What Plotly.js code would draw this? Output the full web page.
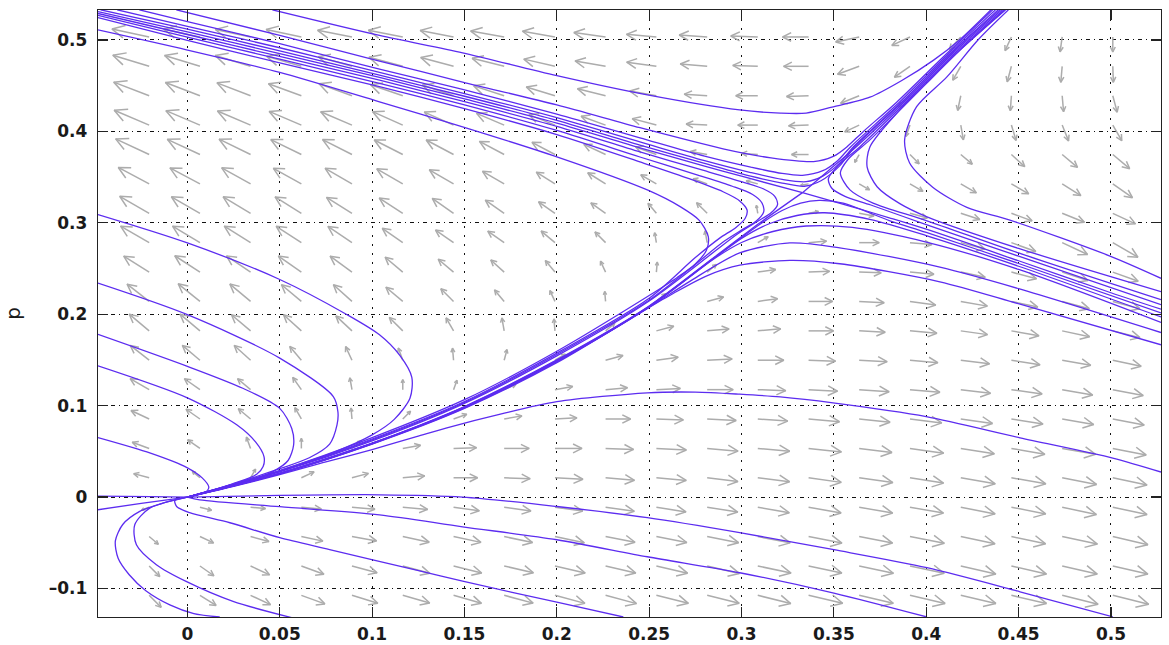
<!DOCTYPE html>
<html><head><meta charset="utf-8">
<script src="https://cdn.plot.ly/plotly-3.0.1.min.js"></script>
<style>html,body{margin:0;padding:0;background:#fff;}#chart{width:1169px;height:645px;}</style>
</head><body><div id="chart"></div>
<script>
// ---- axis ticks ----
const xTickVals = [0, 0.05, 0.1, 0.15, 0.2, 0.25, 0.3, 0.35, 0.4, 0.45, 0.5];
const xTickText = ['0', '0.05', '0.1', '0.15', '0.2', '0.25', '0.3', '0.35', '0.4', '0.45', '0.5'];
const yTickVals = [-0.1, 0, 0.1, 0.2, 0.3, 0.4, 0.5];
const yTickText = ['\u20130.1', '0', '0.1', '0.2', '0.3', '0.4', '0.5'];

// ---- quiver grid (tail positions) ----
const qx = [-0.0207, 0.0068, 0.0342, 0.0617, 0.0891, 0.1166, 0.1441, 0.1715, 0.1990, 0.2264,
            0.2539, 0.2814, 0.3088, 0.3363, 0.3637, 0.3912, 0.4187, 0.4461, 0.4736, 0.5010];
const qp = [0.5033, 0.4712, 0.4390, 0.4069, 0.3747, 0.3426, 0.3104, 0.2783, 0.2461, 0.2140,
            0.1818, 0.1497, 0.1175, 0.0854, 0.0532, 0.0211, -0.0111, -0.0432, -0.0754, -0.1075];
// arrow direction (degrees, on screen) per row (top to bottom) and column (left to right)
const arrowAngle = [
 [168,168,168,168,169,169,169,170,170,172,175,176,178,180,192,205,228,245,262,270],
 [163,163,163,164,164,165,165,166,167,170,172,175,178,180,200,215,240,255,265,272],
 [159,159,159,160,160,161,161,162,163,166,170,176,180,182,202,225,258,266,275,285],
 [157,157,157,157,157,156,156,157,158,160,165,177,180,182,205,250,280,287,292,300],
 [155,155,154,154,153,153,152,152,152,155,160,170,176,180,240,315,320,318,320,320],
 [152,152,151,151,150,150,150,150,148,148,150,160,165,190,330,330,330,330,328,325],
 [150,150,149,148,148,147,145,145,145,145,130,135,100,10,350,345,342,340,338,335],
 [150,149,148,147,146,145,145,145,140,135,100,100,30,5,0,355,345,340,335,330],
 [148,147,146,145,144,140,140,138,130,115,85,40,8,2,358,355,348,345,342,340],
 [142,141,140,140,138,140,135,130,115,95,40,15,8,0,357,352,350,348,345,345],
 [140,140,140,138,137,135,120,100,95,40,15,5,5,0,357,355,352,350,348,346],
 [142,140,138,130,115,110,95,75,30,15,8,3,0,358,357,355,353,351,350,348],
 [150,145,140,125,100,90,70,25,10,5,3,0,358,357,356,355,353,352,350,349],
 [155,145,140,120,95,45,20,10,3,0,358,357,356,355,354,353,352,351,350,349],
 [160,145,110,90,40,10,2,0,0,358,357,355,355,354,353,352,351,350,350,349],
 [165,140,60,25,15,5,0,358,357,355,355,353,353,352,352,351,350,350,349,348],
 [200,345,355,355,355,355,352,352,352,352,351,351,350,350,350,350,349,349,348,348],
 [320,335,345,348,350,348,348,348,348,349,349,349,349,349,349,349,348,348,348,347],
 [315,325,335,340,345,345,346,347,347,347,347,347,348,348,348,348,347,347,347,347],
 [315,328,335,340,343,344,344,345,345,345,346,346,346,347,347,347,347,347,346,346]
];
// arrow magnitude (relative) per grid point
const arrowMag = [
 [38,37,36,36,35,35,34,34,33,32,30,28,27,26,24,20,17,15,15,15],
 [38,37,37,36,35,35,34,33,32,31,30,27,25,25,23,19,16,16,16,16],
 [38,37,36,35,35,34,33,32,30,29,27,23,22,22,20,16,15,15,16,17],
 [38,37,36,35,34,33,32,30,28,26,25,21,20,20,16,12,15,16,17,18],
 [37,36,35,34,33,32,31,28,26,24,22,17,16,17,9,13,15,18,20,22],
 [35,34,33,32,31,30,28,25,22,21,18,15,12,8,12,15,18,20,22,24],
 [34,33,32,31,30,28,26,23,20,18,13,15,8,10,15,18,20,22,24,25],
 [33,32,31,30,29,25,22,20,18,15,10,12,12,18,20,22,25,26,28,29],
 [30,30,29,28,27,23,20,18,15,12,10,12,18,21,22,24,25,26,27,27],
 [28,28,27,26,25,22,18,15,12,10,12,17,20,24,25,26,27,27,28,28],
 [26,26,25,24,22,19,15,13,12,12,18,22,23,25,26,27,27,28,28,28],
 [24,23,22,18,15,13,12,11,12,18,22,25,26,27,28,28,29,29,29,29],
 [22,19,17,15,12,10,10,13,18,22,24,26,28,29,30,30,30,31,31,31],
 [20,17,16,13,11,11,14,18,22,25,27,29,30,31,31,32,32,32,32,32],
 [18,15,12,10,12,18,23,25,27,28,30,31,32,33,33,34,34,34,34,34],
 [16,10,10,14,17,22,24,26,28,29,30,31,32,33,34,34,35,35,35,35],
 [8,12,15,20,23,25,26,27,28,29,30,31,32,33,34,34,35,35,35,35],
 [12,15,19,22,25,27,28,29,30,30,31,32,33,34,34,35,35,35,36,36],
 [15,17,21,24,26,28,29,30,31,31,32,33,34,34,35,35,36,36,36,36],
 [17,19,22,25,27,28,29,30,31,32,33,33,34,35,35,36,36,36,37,37]
];

// ---- trajectories (x, p) ----
const sX = [0, 0.025, 0.05, 0.075, 0.1, 0.125, 0.15, 0.2, 0.25, 0.285, 0.31, 0.333];
const sP = [0, 0.012, 0.026, 0.042, 0.059, 0.078, 0.099, 0.150, 0.209, 0.262, 0.300, 0.333];
const urX = [0.333, 0.347, 0.362, 0.389, 0.415, 0.441];
const urP = [0.333, 0.357, 0.383, 0.434, 0.4865, 0.533];
const ulX = [0.333, 0.30, 0.28, 0.245, 0.2, 0.149, 0.104, 0.05, 0.0, -0.0484];
const ulP = [0.333, 0.351, 0.362, 0.382, 0.409, 0.436, 0.459, 0.485, 0.509, 0.531];
const lrX = [0.333, 0.36, 0.38, 0.40, 0.45, 0.50, 0.5271];
const lrP = [0.333, 0.3175, 0.3055, 0.293, 0.2585, 0.2235, 0.2055];

const t1X = [0.046, 0.104, 0.149, 0.200, 0.249, 0.299, 0.321, 0.335, 0.349, 0.3695, 0.387, 0.404, 0.418, 0.435];
const t1P = [0.533, 0.505, 0.486, 0.461, 0.440, 0.4235, 0.420, 0.420, 0.4265, 0.4374, 0.456, 0.478, 0.500, 0.533];
const t2X = [-0.006, 0.05, 0.104, 0.149, 0.200, 0.245, 0.29, 0.316, 0.339, 0.350, 0.357, 0.366, 0.384, 0.41, 0.436];
const t2P = [0.533, 0.505, 0.477, 0.454, 0.429, 0.404, 0.381, 0.371, 0.367, 0.373, 0.383, 0.40, 0.432, 0.483, 0.533];
const t3X = [-0.026, 0.0, 0.05, 0.104, 0.149, 0.2, 0.245, 0.28, 0.305, 0.322, 0.333, 0.344, 0.352, 0.359, 0.386, 0.412, 0.4375];
const t3P = [0.533, 0.520, 0.496, 0.468, 0.446, 0.419, 0.393, 0.373, 0.361, 0.354, 0.352, 0.357, 0.368, 0.383, 0.433, 0.485, 0.533];
const t4X = [-0.038, 0.0, 0.05, 0.104, 0.149, 0.2, 0.245, 0.28, 0.305, 0.322, 0.335, 0.344, 0.353, 0.3605, 0.3875, 0.4135, 0.439];
const t4P = [0.533, 0.515, 0.4915, 0.4645, 0.442, 0.415, 0.3885, 0.368, 0.355, 0.3475, 0.345, 0.351, 0.365, 0.383, 0.4335, 0.486, 0.533];
const t5X = [-0.047, 0.0, 0.05, 0.104, 0.149, 0.2, 0.245, 0.28, 0.305, 0.322, 0.334, 0.343, 0.353, 0.3612, 0.388, 0.414, 0.44];
const t5P = [0.533, 0.512, 0.488, 0.4615, 0.439, 0.412, 0.385, 0.365, 0.351, 0.3435, 0.340, 0.346, 0.362, 0.383, 0.434, 0.4863, 0.533];

const lq1X = [-0.0484, 0.0, 0.05, 0.104, 0.149, 0.2, 0.249, 0.267, 0.277, 0.282, 0.281, 0.275, 0.265, 0.25, 0.2, 0.15, 0.1, 0.05, 0.0];
const lq1P = [0.511, 0.489, 0.4645, 0.4323, 0.405, 0.3722, 0.336, 0.3175, 0.303, 0.285, 0.270, 0.255, 0.240, 0.2205, 0.1595, 0.1065, 0.065, 0.029, 0.0];
const lq2X = [-0.0484, 0.0, 0.05, 0.104, 0.149, 0.2, 0.245, 0.28, 0.30, 0.312, 0.318, 0.3195, 0.316, 0.309, 0.298, 0.285, 0.25, 0.2, 0.15, 0.1, 0.05, 0.0];
const lq2P = [0.529, 0.506, 0.482, 0.456, 0.433, 0.4055, 0.3775, 0.357, 0.345, 0.337, 0.329, 0.320, 0.311, 0.302, 0.288, 0.268, 0.2145, 0.1545, 0.1025, 0.0615, 0.0275, 0.0];
const lq3X = [-0.0484, 0.0, 0.05, 0.104, 0.149, 0.2, 0.245, 0.275, 0.295, 0.306, 0.311, 0.312, 0.308, 0.300, 0.29, 0.275, 0.25, 0.2, 0.15, 0.1, 0.05, 0.0];
const lq3P = [0.527, 0.503, 0.479, 0.4525, 0.4295, 0.401, 0.372, 0.353, 0.340, 0.331, 0.322, 0.312, 0.302, 0.292, 0.279, 0.2545, 0.2155, 0.156, 0.1035, 0.0625, 0.028, 0.0];
const lq4X = [-0.0484, 0.0, 0.05, 0.104, 0.149, 0.2, 0.245, 0.272, 0.29, 0.299, 0.303, 0.302, 0.297, 0.288, 0.275, 0.25, 0.2, 0.15, 0.1, 0.05, 0.0];
const lq4P = [0.5245, 0.4995, 0.475, 0.449, 0.4255, 0.3965, 0.3666, 0.348, 0.334, 0.324, 0.314, 0.305, 0.295, 0.283, 0.262, 0.2175, 0.1575, 0.1045, 0.0635, 0.0285, 0.0];

const l1X = [-0.0484, 0.0, 0.05, 0.086, 0.104, 0.115, 0.1215, 0.1205, 0.112, 0.1, 0.08, 0.05, 0.025, 0.0];
const l1P = [0.309, 0.278, 0.238, 0.200, 0.1775, 0.155, 0.131, 0.108, 0.085, 0.068, 0.0495, 0.029, 0.0135, 0.0];
const l2X = [-0.0484, 0.0, 0.05, 0.079, 0.0815, 0.081, 0.077, 0.066, 0.05, 0.025, 0.0];
const l2P = [0.234, 0.1995, 0.152, 0.110, 0.093, 0.079, 0.058, 0.043, 0.031, 0.0145, 0.0];
const l3X = [-0.0484, 0.0, 0.03, 0.05, 0.0565, 0.0575, 0.0545, 0.046, 0.032, 0.015, 0.0];
const l3P = [0.178, 0.143, 0.119, 0.097, 0.075, 0.057, 0.040, 0.0275, 0.0165, 0.0072, 0.0];
const l4X = [-0.0484, 0.0, 0.0267, 0.037, 0.0415, 0.041, 0.0375, 0.0245, 0.012, 0.0];
const l4P = [0.1436, 0.1086, 0.079, 0.060, 0.044, 0.0335, 0.025, 0.0145, 0.0065, 0.0];
const l5X = [-0.0484, -0.02, 0.0, 0.008, 0.0116, 0.0105, 0.006, 0.0];
const l5P = [0.065, 0.048, 0.032, 0.021, 0.011, 0.0065, 0.0032, 0.0];

const z0lX = [-0.0484, -0.02, 0.0];
const z0lP = [0.001, 0.0005, 0.0];
const zl2X = [-0.0484, -0.025, 0.0];
const zl2P = [-0.0139, -0.0068, 0.0];
const z0rX = [0.0, 0.05, 0.104, 0.149, 0.2, 0.249, 0.299, 0.35, 0.4004, 0.4508, 0.501];
const z0rP = [0.0, 0.0018, 0.0025, 0.0, -0.0103, -0.0226, -0.039, -0.0576, -0.0773, -0.1036, -0.131];
const z1X = [0.0, 0.0067, 0.05, 0.104, 0.149, 0.2, 0.249, 0.299, 0.35, 0.4004];
const z1P = [0.0, -0.003, -0.0105, -0.0194, -0.0325, -0.0467, -0.0653, -0.0828, -0.105, -0.1312];
const z2X = [0.0, -0.0068, -0.0057, 0.0012, 0.023, 0.05, 0.077, 0.124, 0.149, 0.2, 0.236];
const z2P = [0.0, -0.0037, -0.0106, -0.0171, -0.0281, -0.0445, -0.0575, -0.0800, -0.0920, -0.1150, -0.1312];
const d2X = [0.0, -0.013, -0.0258, -0.035, -0.039, -0.0375, -0.0315, -0.0225, -0.0095, 0.0035, 0.0175];
const d2P = [0.0, -0.0065, -0.0157, -0.030, -0.048, -0.067, -0.085, -0.1025, -0.118, -0.1275, -0.1312];
const d3X = [0.0, -0.0204, -0.0285, -0.0276, -0.0168, -0.0007, 0.0247, 0.0572];
const d3P = [0.0, -0.0121, -0.0303, -0.0522, -0.074, -0.0923, -0.1141, -0.1323];

const pX = [0.0, 0.025, 0.05, 0.075, 0.1, 0.124, 0.14, 0.17, 0.2, 0.249, 0.275, 0.299, 0.321, 0.3495, 0.4, 0.4508, 0.501, 0.5271];
const pP = [0.0, 0.0118, 0.0245, 0.0385, 0.052, 0.066, 0.0755, 0.091, 0.1043, 0.114, 0.1148, 0.1125, 0.1095, 0.103, 0.088, 0.0648, 0.0427, 0.0274];

const q1X = [0.0, 0.05, 0.1, 0.15, 0.2, 0.245, 0.263, 0.2812, 0.2991, 0.3262, 0.3532, 0.4074, 0.4508, 0.5271];
const q1P = [0.0, 0.0255, 0.058, 0.097, 0.147, 0.2015, 0.2227, 0.242, 0.2536, 0.2589, 0.2552, 0.2355, 0.211, 0.1666];
const q2X = [0.0, 0.05, 0.1, 0.15, 0.2, 0.25, 0.272, 0.299, 0.3262, 0.3532, 0.4074, 0.45, 0.5271];
const q2P = [0.0, 0.0257, 0.0583, 0.0975, 0.148, 0.2075, 0.236, 0.267, 0.278, 0.2727, 0.2515, 0.228, 0.18];
const q3X = [0.0, 0.05, 0.1, 0.15, 0.2, 0.25, 0.285, 0.30, 0.317, 0.335, 0.36, 0.40, 0.45, 0.5271];
const q3P = [0.0, 0.0258, 0.0585, 0.098, 0.1485, 0.208, 0.2605, 0.2785, 0.2905, 0.2965, 0.295, 0.279, 0.249, 0.191];
const q4X = [0.0, 0.05, 0.1, 0.15, 0.2, 0.25, 0.285, 0.30, 0.315, 0.33, 0.345, 0.37, 0.40, 0.45, 0.5271];
const q4P = [0.0, 0.0259, 0.0587, 0.0985, 0.149, 0.2085, 0.261, 0.283, 0.299, 0.308, 0.311, 0.3035, 0.286, 0.2525, 0.197];
const q5X = [0.0, 0.05, 0.1, 0.15, 0.2, 0.25, 0.285, 0.31, 0.322, 0.332, 0.342, 0.355, 0.38, 0.40, 0.45, 0.5271];
const q5P = [0.0, 0.0259, 0.0588, 0.0988, 0.1495, 0.2088, 0.2615, 0.2985, 0.3135, 0.3215, 0.3245, 0.3215, 0.3025, 0.2895, 0.2555, 0.2015];

const r1X = [0.4445, 0.428, 0.4112, 0.3948, 0.3883, 0.391, 0.4035, 0.422, 0.4453, 0.4995, 0.5271];
const r1P = [0.533, 0.50, 0.4596, 0.427, 0.3907, 0.3655, 0.339, 0.317, 0.303, 0.2636, 0.2393];
const r2X = [0.443, 0.4183, 0.40, 0.3857, 0.3695, 0.368, 0.3734, 0.3857, 0.4004, 0.45, 0.5271];
const r2P = [0.533, 0.489, 0.4525, 0.4235, 0.383, 0.361, 0.3395, 0.321, 0.3066, 0.272, 0.2247];
const r3X = [0.4425, 0.417, 0.391, 0.3695, 0.3575, 0.3535, 0.3587, 0.3712, 0.40, 0.45, 0.5271];
const r3P = [0.533, 0.4865, 0.434, 0.3907, 0.369, 0.3545, 0.336, 0.3215, 0.3025, 0.267, 0.2159];
const r4X = [0.442, 0.416, 0.39, 0.364, 0.352, 0.347, 0.349, 0.356, 0.37, 0.40, 0.45, 0.5271];
const r4P = [0.533, 0.4865, 0.434, 0.383, 0.362, 0.348, 0.3375, 0.329, 0.3195, 0.298, 0.2635, 0.2105];

const trajectories = [
  [sX, sP], [urX, urP], [ulX, ulP], [lrX, lrP],
  [t1X, t1P], [t2X, t2P], [t3X, t3P], [t4X, t4P], [t5X, t5P],
  [lq1X, lq1P], [lq2X, lq2P], [lq3X, lq3P], [lq4X, lq4P],
  [l1X, l1P], [l2X, l2P], [l3X, l3P], [l4X, l4P], [l5X, l5P],
  [z0lX, z0lP], [zl2X, zl2P], [z0rX, z0rP], [z1X, z1P], [z2X, z2P],
  [d2X, d2P], [d3X, d3P], [pX, pP],
  [q1X, q1P], [q2X, q2P], [q3X, q3P], [q4X, q4P], [q5X, q5P],
  [r1X, r1P], [r2X, r2P], [r3X, r3P], [r4X, r4P]
];

// ---- layout geometry ----
const W = 1169, H = 645;
const M = {l: 98, r: 8, t: 10, b: 28};
const xRange = [-0.0484, 0.5271];
const yRange = [-0.1312, 0.5328];
const kx = (W - M.l - M.r) / (xRange[1] - xRange[0]);
const ky = (H - M.t - M.b) / (yRange[1] - yRange[0]);

// quiver arrows (MATLAB-style heads)
const alpha = 0.33, beta = 0.5;
const ax = [], ay = [];
for (let r = 0; r < qp.length; r++) {
  for (let c = 0; c < qx.length; c++) {
    const a = arrowAngle[r][c] * Math.PI / 180;
    const L = arrowMag[r][c];
    const ux = L * Math.cos(a), uy = L * Math.sin(a);
    const x0 = qx[c], y0 = qp[r];
    const x1 = x0 + ux / kx, y1 = y0 + uy / ky;
    const hax = ux - alpha * (ux + beta * uy), hay = uy - alpha * (uy - beta * ux);
    const hbx = ux - alpha * (ux - beta * uy), hby = uy - alpha * (uy + beta * ux);
    ax.push(x0, x1, null, x0 + hax / kx, x1, x0 + hbx / kx, null);
    ay.push(y0, y1, null, y0 + hay / ky, y1, y0 + hby / ky, null);
  }
}

const data = [{
  type: 'scatter', mode: 'lines', x: ax, y: ay, hoverinfo: 'skip',
  line: {color: 'rgb(172,172,172)', width: 1.5}, connectgaps: false
}];
const trajColor = 'rgb(92,44,240)';
trajectories.forEach(t => {
  data.push({type: 'scatter', mode: 'lines', x: t[0], y: t[1], hoverinfo: 'skip',
    line: {color: trajColor, width: 1.3, shape: 'spline', smoothing: 0.8}});
});

const tickFont = {family: 'DejaVu Sans, Arial, sans-serif', size: 17, weight: 'bold', color: '#1a1a1a'};
const axisCommon = {
  showline: true, linecolor: '#222', linewidth: 1.2, mirror: 'ticks',
  ticks: 'inside', ticklen: 10, tickwidth: 1.2, tickcolor: '#222',
  showgrid: true, gridcolor: '#111', gridwidth: 1,
  zeroline: false, tickfont: tickFont, fixedrange: true, automargin: false
};
const layout = {
  width: W, height: H, margin: M, showlegend: false,
  paper_bgcolor: '#fff', plot_bgcolor: '#fff',
  xaxis: Object.assign({}, axisCommon, {
    range: xRange, tickmode: 'array', tickvals: xTickVals, ticktext: xTickText,
    griddash: '2px,7px', ticklabelstandoff: 1
  }),
  yaxis: Object.assign({}, axisCommon, {
    range: yRange, tickmode: 'array', tickvals: yTickVals, ticktext: yTickText,
    griddash: '4px,4px,1px,4px', ticklabelstandoff: 6,
    title: {text: 'p', font: {family: 'DejaVu Sans, Arial, sans-serif', size: 20, color: '#1a1a1a'}, standoff: 22}
  })
};
Plotly.newPlot('chart', data, layout, {staticPlot: true, displayModeBar: false});
</script></body></html>
